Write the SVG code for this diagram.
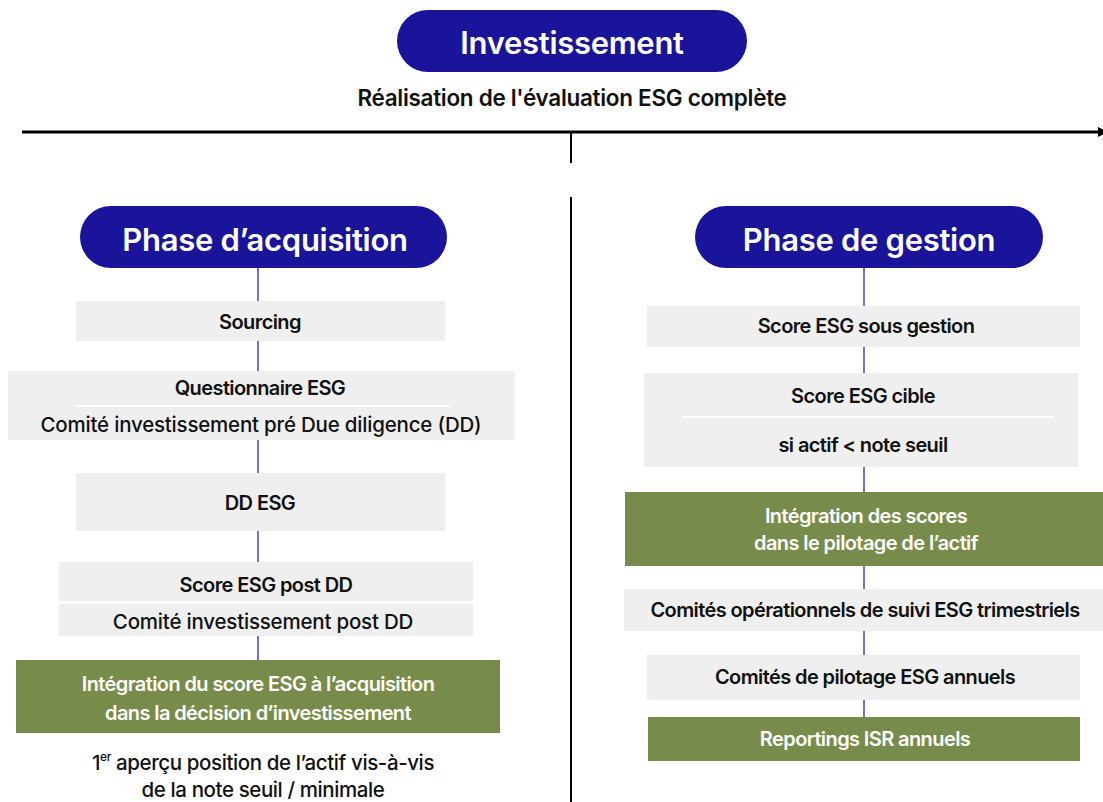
<svg xmlns="http://www.w3.org/2000/svg" width="1103" height="802" viewBox="0 0 1103 802">
<style>
text{font-family:Inter,"Liberation Sans",sans-serif;text-anchor:middle;dominant-baseline:central}
.pill{fill:#1a149a}
.pt{fill:#fff;font-weight:600;font-size:31px;letter-spacing:-0.3px}
.box{fill:#efefef}
.grn{fill:#778c4a}
.b{font-weight:600;font-size:20px;fill:#111;letter-spacing:-0.6px}
.r{font-weight:500;font-size:20.5px;fill:#111;letter-spacing:-0.2px}
.w{font-weight:600;font-size:20px;fill:#fff;letter-spacing:-0.6px}
.con{stroke:#1a149a;stroke-width:1.2}
.sep{stroke:#fff;stroke-width:2}
</style>
<defs>
<marker id="ah" markerWidth="10" markerHeight="10" refX="8" refY="5" orient="auto" markerUnits="userSpaceOnUse"><path d="M0,0 L10,5 L0,10 z" fill="#000"/></marker>
</defs>
<g id="timeline">
<line x1="22" y1="132" x2="1106" y2="132" stroke="#000" stroke-width="3" marker-end="url(#ah)"/>
<line x1="571" y1="132" x2="571" y2="163" stroke="#000" stroke-width="2"/>
<line x1="571" y1="197" x2="571" y2="802" stroke="#000" stroke-width="2"/>
</g>
<g id="connectors">
<line class="con" x1="258" y1="268" x2="258" y2="301"/>
<line class="con" x1="258" y1="341" x2="258" y2="371"/>
<line class="con" x1="258" y1="440" x2="258" y2="473"/>
<line class="con" x1="258" y1="531" x2="258" y2="562"/>
<line class="con" x1="258" y1="636" x2="258" y2="660"/>
<line class="con" x1="864" y1="268" x2="864" y2="306"/>
<line class="con" x1="864" y1="347" x2="864" y2="373"/>
<line class="con" x1="864" y1="467" x2="864" y2="492"/>
<line class="con" x1="864" y1="566" x2="864" y2="589"/>
<line class="con" x1="864" y1="631" x2="864" y2="655"/>
<line class="con" x1="864" y1="700" x2="864" y2="717"/>
</g>
<g id="investissement">
<rect class="pill" x="397" y="10" width="350" height="62" rx="31"/>
<text class="pt" x="572" y="42" font-size="30.5">Investissement</text>
</g>
<g id="subtitle">
<text x="572" y="97" style="font-weight:600;font-size:22.5px;fill:#111;letter-spacing:-0.3px">Réalisation de l'évaluation ESG complète</text>
</g>
<g id="phase-acquisition">
<rect class="pill" x="80" y="206" width="367" height="62" rx="31"/>
<text class="pt" x="265" y="239">Phase d’acquisition</text>
</g>
<g id="sourcing">
<rect class="box" x="76" y="301" width="369" height="40"/>
<text class="b" x="260" y="322">Sourcing</text>
</g>
<g id="questionnaire">
<rect class="box" x="8" y="371" width="507" height="69"/>
<line class="sep" x1="77" y1="406" x2="450" y2="406"/>
<text class="b" x="260" y="388">Questionnaire ESG</text>
<text class="r" x="261" y="424">Comité investissement pré Due diligence (DD)</text>
</g>
<g id="dd-esg">
<rect class="box" x="76" y="473" width="369" height="58"/>
<text class="b" x="260" y="503">DD ESG</text>
</g>
<g id="score-post-dd">
<rect class="box" x="59" y="562" width="414" height="39"/>
<text class="b" x="266" y="585">Score ESG post DD</text>
</g>
<g id="comite-post-dd">
<rect class="box" x="59" y="604" width="414" height="32"/>
<text class="r" x="263" y="621">Comité investissement post DD</text>
</g>
<g id="integration-acquisition">
<rect class="grn" x="16" y="660" width="484" height="73"/>
<text class="w" x="258" y="684">Intégration du score ESG à l’acquisition</text>
<text class="w" x="258" y="713">dans la décision d’investissement</text>
</g>
<g id="apercu">
<text class="r" x="263" y="762" style="letter-spacing:-0.4px">1<tspan font-size="12" dy="-6">er</tspan><tspan dy="6"> aperçu position de l’actif vis-à-vis</tspan></text>
<text class="r" x="263" y="789" style="letter-spacing:-0.4px">de la note seuil / minimale</text>
</g>
<g id="phase-gestion">
<rect class="pill" x="695" y="206" width="348" height="62" rx="31"/>
<text class="pt" x="869" y="239">Phase de gestion</text>
</g>
<g id="score-sous-gestion">
<rect class="box" x="647" y="306" width="433" height="41"/>
<text class="b" x="866" y="326">Score ESG sous gestion</text>
</g>
<g id="score-cible">
<rect class="box" x="644" y="373" width="434" height="94"/>
<line class="sep" x1="682" y1="417" x2="1054" y2="417"/>
<text class="b" x="863" y="396">Score ESG cible</text>
<text class="b" x="863" y="445">si actif &lt; note seuil</text>
</g>
<g id="integration-pilotage">
<rect class="grn" x="625" y="492" width="478" height="74"/>
<text class="w" x="866" y="516">Intégration des scores</text>
<text class="w" x="866" y="543">dans le pilotage de l’actif</text>
</g>
<g id="comites-operationnels">
<rect class="box" x="624" y="589" width="479" height="42"/>
<text class="b" x="865" y="610">Comités opérationnels de suivi ESG trimestriels</text>
</g>
<g id="comites-pilotage">
<rect class="box" x="647" y="655" width="433" height="45"/>
<text class="b" x="865" y="677">Comités de pilotage ESG annuels</text>
</g>
<g id="reportings">
<rect class="grn" x="648" y="717" width="432" height="44"/>
<text class="w" x="865" y="739">Reportings ISR annuels</text>
</g>
</svg>
